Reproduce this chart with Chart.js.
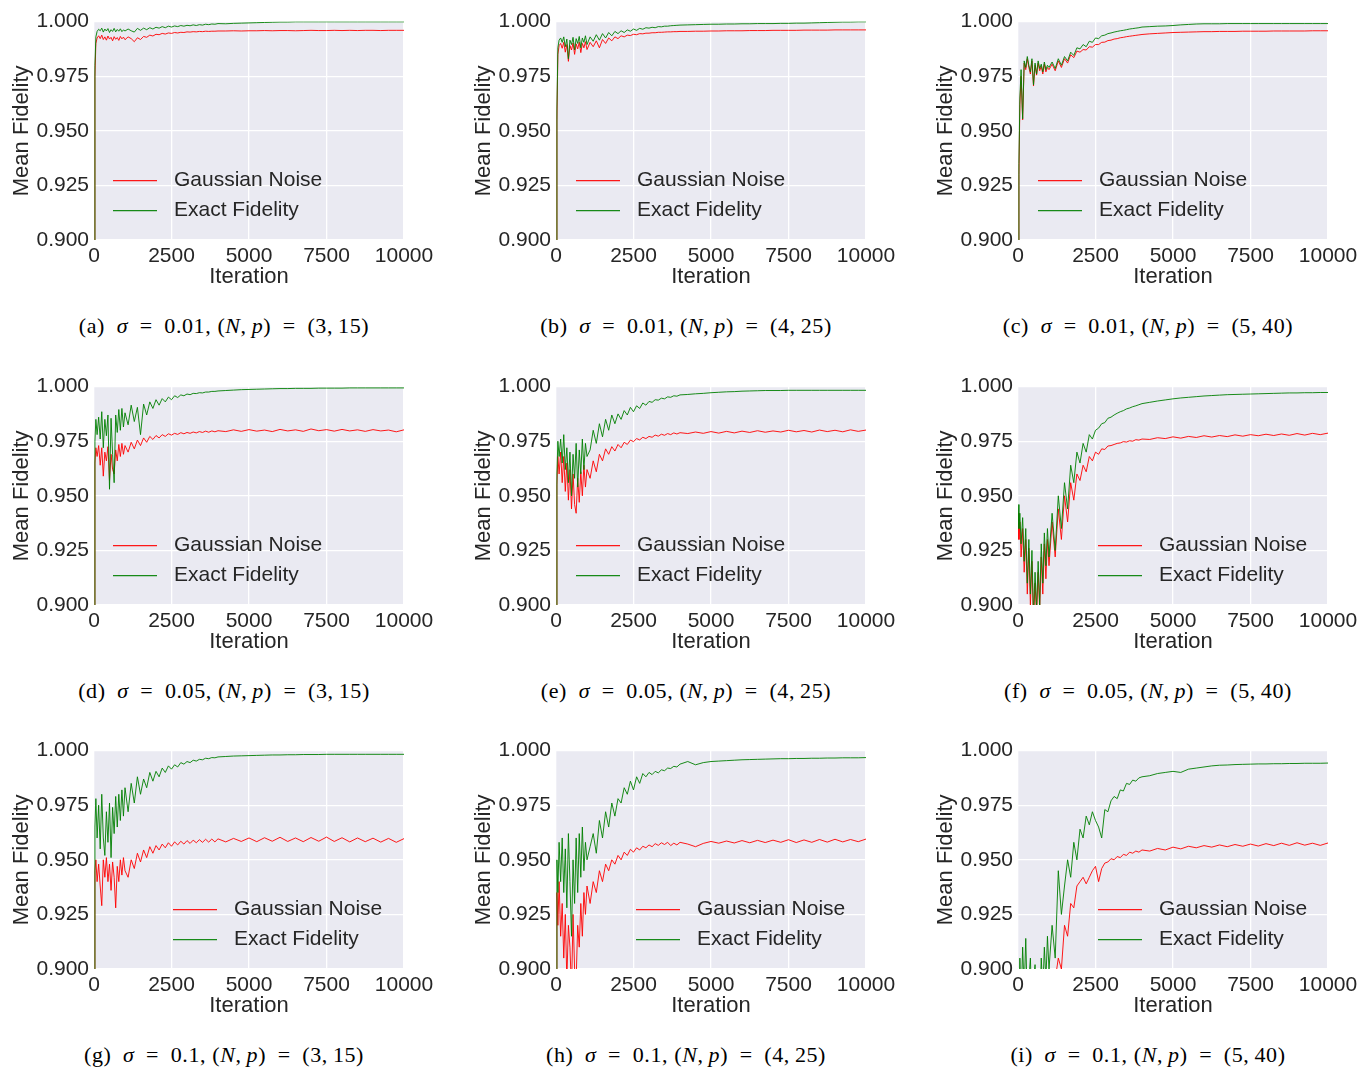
<!DOCTYPE html>
<html>
<head>
<meta charset="utf-8">
<script src="https://cdn.jsdelivr.net/npm/chart.js@4.4.1/dist/chart.umd.min.js"></script>
<style>
  body { margin: 0; background: #fff; }
  #page { position: relative; width: 1361px; height: 1067px; }
  canvas { position: absolute; }
  .cap { position: absolute; width: 420px; text-align: center; font-family: 'Liberation Serif', 'DejaVu Serif', serif; font-size: 22px; line-height: 26px; letter-spacing: 0.6px; color: #000; white-space: nowrap; }
  .cap i { font-style: italic; }
</style>
</head>
<body>
<div id="page"></div>
<script>
// iteration grid shared by every panel
let iterations = [0, 30, 60, 100,
  150, 200, 250, 300, 350, 400, 450, 500, 550, 600, 650, 700, 750, 800, 850, 900, 950, 1000,
  1100, 1200, 1300, 1400, 1500, 1600, 1700, 1800, 1900, 2000,
  2100, 2200, 2300, 2400, 2500, 2600, 2700, 2800, 2900, 3000,
  3100, 3200, 3300, 3400, 3500, 3600, 3700, 3800, 3900, 4000,
  4250, 4500, 4750, 5000, 5250, 5500, 5750, 6000, 6250, 6500, 6750, 7000,
  7250, 7500, 7750, 8000, 8250, 8500, 8750, 9000, 9250, 9500, 9750, 10000];

let xTicks = [0, 2500, 5000, 7500, 10000];
let yTicks = [0.900, 0.925, 0.950, 0.975, 1.000];

// (a) sigma = 0.01, (N,p) = (3,15)
let redA = [0.850, 0.975, 0.990, 0.9925,
  0.9935, 0.9922, 0.9938, 0.9918, 0.9930, 0.9915, 0.9934, 0.9920, 0.9928,
  0.9912, 0.9931, 0.9919, 0.9927, 0.9914, 0.9932, 0.9921, 0.9929, 0.9917,
  0.9930, 0.9922, 0.9908, 0.9926, 0.9918, 0.9932, 0.9928, 0.9938, 0.9934, 0.9942,
  0.9940, 0.9946, 0.9943, 0.9948, 0.9946, 0.9950, 0.9948, 0.9951, 0.9950, 0.9953,
  0.9952, 0.9954, 0.9953, 0.9955, 0.9954, 0.9956, 0.9955, 0.9956, 0.9956, 0.9957,
  0.9957, 0.9958, 0.9957, 0.9958, 0.9958, 0.9959, 0.9958, 0.9959, 0.9959, 0.9958, 0.9959, 0.9960,
  0.9959, 0.9959, 0.9960, 0.9959, 0.9960, 0.9959, 0.9960, 0.9960, 0.9959, 0.9960, 0.9960, 0.9960];
let greenA = [0.850, 0.980, 0.993, 0.9955,
  0.9965, 0.9958, 0.9970, 0.9952, 0.9966, 0.9957, 0.9968, 0.9950, 0.9963,
  0.9955, 0.9969, 0.9953, 0.9964, 0.9956, 0.9967, 0.9954, 0.9962, 0.9957,
  0.9966, 0.9958, 0.9952, 0.9969, 0.9960, 0.9970, 0.9963, 0.9972, 0.9966, 0.9974,
  0.9970, 0.9977, 0.9972, 0.9979, 0.9975, 0.9980, 0.9977, 0.9982, 0.9979, 0.9983,
  0.9981, 0.9985, 0.9982, 0.9986, 0.9984, 0.9988, 0.9986, 0.9989, 0.9988, 0.9991,
  0.9990, 0.9992, 0.9993, 0.9994, 0.9995, 0.9996, 0.9997, 0.9998, 0.9998, 0.9999, 0.9999, 0.9999,
  0.9999, 0.9999, 0.9999, 0.9999, 0.9999, 0.9999, 0.9999, 0.9999, 0.9999, 0.9999, 0.9999, 0.9999];

// (b) sigma = 0.01, (N,p) = (4,25)
let redB = [0.850, 0.955, 0.985, 0.9890,
  0.9900, 0.9878, 0.9905, 0.9860, 0.9895, 0.9818, 0.9890, 0.9870, 0.9902,
  0.9850, 0.9898, 0.9875, 0.9906, 0.9858, 0.9900, 0.9880, 0.9908, 0.9872,
  0.9905, 0.9885, 0.9912, 0.9880, 0.9918, 0.9900, 0.9925, 0.9912, 0.9930, 0.9922,
  0.9935, 0.9930, 0.9938, 0.9936, 0.9942, 0.9940, 0.9945, 0.9944, 0.9947, 0.9947,
  0.9949, 0.9949, 0.9951, 0.9951, 0.9952, 0.9953, 0.9953, 0.9954, 0.9954, 0.9955,
  0.9955, 0.9956, 0.9956, 0.9957, 0.9957, 0.9958, 0.9958, 0.9958, 0.9959, 0.9959, 0.9959, 0.9960,
  0.9960, 0.9960, 0.9960, 0.9961, 0.9961, 0.9961, 0.9961, 0.9962, 0.9962, 0.9962, 0.9962, 0.9962];
let greenB = [0.850, 0.960, 0.988, 0.9915,
  0.9925, 0.9905, 0.9930, 0.9885, 0.9920, 0.9830, 0.9915, 0.9895, 0.9928,
  0.9870, 0.9922, 0.9900, 0.9932, 0.9880, 0.9925, 0.9905, 0.9935, 0.9895,
  0.9930, 0.9910, 0.9940, 0.9915, 0.9945, 0.9925, 0.9950, 0.9935, 0.9955, 0.9945,
  0.9958, 0.9950, 0.9962, 0.9956, 0.9966, 0.9960, 0.9969, 0.9965, 0.9972, 0.9970,
  0.9974, 0.9972, 0.9977, 0.9976, 0.9979, 0.9979, 0.9981, 0.9982, 0.9983, 0.9984,
  0.9985, 0.9986, 0.9987, 0.9988, 0.9988, 0.9989, 0.9989, 0.9990, 0.9990, 0.9991, 0.9991, 0.9991,
  0.9992, 0.9992, 0.9993, 0.9993, 0.9994, 0.9995, 0.9996, 0.9997, 0.9998, 0.9998, 0.9999, 0.9999];

// (c) sigma = 0.01, (N,p) = (5,40)
let redC = [0.850, 0.930, 0.962, 0.975,
  0.9550, 0.9810, 0.9780, 0.9830, 0.9790, 0.9760, 0.9820, 0.9705, 0.9800,
  0.9755, 0.9810, 0.9775, 0.9795, 0.9760, 0.9805, 0.9770, 0.9790, 0.9780,
  0.9805, 0.9775, 0.9820, 0.9790, 0.9830, 0.9810, 0.9848, 0.9835, 0.9865, 0.9860,
  0.9872, 0.9870, 0.9885, 0.9883, 0.9895, 0.9895, 0.9905, 0.9906, 0.9913, 0.9915,
  0.9920, 0.9922, 0.9926, 0.9928, 0.9931, 0.9933, 0.9935, 0.9937, 0.9939, 0.9941,
  0.9944, 0.9946, 0.9948, 0.9950, 0.9951, 0.9952, 0.9953, 0.9954, 0.9954, 0.9955, 0.9955, 0.9955,
  0.9956, 0.9956, 0.9956, 0.9956, 0.9957, 0.9957, 0.9957, 0.9957, 0.9957, 0.9958, 0.9958, 0.9958];
let greenC = [0.850, 0.935, 0.965, 0.978,
  0.9555, 0.9820, 0.9790, 0.9840, 0.9800, 0.9770, 0.9830, 0.9710, 0.9810,
  0.9760, 0.9820, 0.9785, 0.9805, 0.9770, 0.9815, 0.9780, 0.9800, 0.9790,
  0.9815, 0.9785, 0.9830, 0.9800, 0.9840, 0.9820, 0.9860, 0.9845, 0.9880, 0.9875,
  0.9895, 0.9885, 0.9910, 0.9905, 0.9925, 0.9922, 0.9935, 0.9938, 0.9945, 0.9948,
  0.9952, 0.9955, 0.9958, 0.9960, 0.9963, 0.9966, 0.9968, 0.9970, 0.9972, 0.9975,
  0.9977, 0.9979, 0.9980, 0.9982, 0.9985, 0.9987, 0.9989, 0.9990, 0.9990, 0.9990, 0.9991, 0.9991,
  0.9991, 0.9991, 0.9991, 0.9991, 0.9991, 0.9991, 0.9991, 0.9991, 0.9991, 0.9991, 0.9991, 0.9991];

// (d) sigma = 0.05, (N,p) = (3,15)
let redD = [0.850, 0.965, 0.972, 0.968,
  0.9730, 0.9640, 0.9720, 0.9590, 0.9700, 0.9660, 0.9725, 0.9570, 0.9690,
  0.9620, 0.9600, 0.9710, 0.9660, 0.9735, 0.9680, 0.9740, 0.9690, 0.9730,
  0.9700, 0.9745, 0.9715, 0.9755, 0.9730, 0.9765, 0.9745, 0.9772, 0.9758, 0.9776,
  0.9765, 0.9780, 0.9772, 0.9784, 0.9778, 0.9786, 0.9781, 0.9789, 0.9784, 0.9790,
  0.9786, 0.9792, 0.9788, 0.9794, 0.9790, 0.9796, 0.9791, 0.9797, 0.9793, 0.9798,
  0.9794, 0.9802, 0.9795, 0.9803, 0.9796, 0.9801, 0.9794, 0.9804, 0.9797, 0.9802, 0.9795, 0.9806,
  0.9798, 0.9803, 0.9796, 0.9804, 0.9797, 0.9802, 0.9795, 0.9803, 0.9797, 0.9801, 0.9793, 0.9802];
let greenD = [0.850, 0.975, 0.985, 0.978,
  0.9860, 0.9760, 0.9885, 0.9720, 0.9850, 0.9775, 0.9870, 0.9530, 0.9855,
  0.9690, 0.9560, 0.9870, 0.9790, 0.9895, 0.9800, 0.9900, 0.9815, 0.9880,
  0.9825, 0.9915, 0.9840, 0.9905, 0.9780, 0.9920, 0.9870, 0.9930, 0.9900, 0.9940,
  0.9915, 0.9945, 0.9930, 0.9952, 0.9940, 0.9958, 0.9950, 0.9962, 0.9958, 0.9966,
  0.9963, 0.9969, 0.9968, 0.9972, 0.9971, 0.9975, 0.9975, 0.9978, 0.9978, 0.9980,
  0.9982, 0.9984, 0.9986, 0.9987, 0.9988, 0.9989, 0.9990, 0.9991, 0.9991, 0.9992, 0.9992, 0.9992,
  0.9993, 0.9993, 0.9993, 0.9993, 0.9994, 0.9994, 0.9994, 0.9994, 0.9994, 0.9994, 0.9994, 0.9994];

// (e) sigma = 0.05, (N,p) = (4,25)
let redE = [0.850, 0.955, 0.968, 0.960,
  0.9700, 0.9560, 0.9680, 0.9520, 0.9650, 0.9480, 0.9620, 0.9440, 0.9600,
  0.9460, 0.9420, 0.9580, 0.9470, 0.9610, 0.9500, 0.9640, 0.9540, 0.9620,
  0.9580, 0.9660, 0.9610, 0.9690, 0.9660, 0.9715, 0.9690, 0.9725, 0.9705, 0.9735,
  0.9720, 0.9745, 0.9735, 0.9755, 0.9748, 0.9762, 0.9756, 0.9768, 0.9762, 0.9772,
  0.9768, 0.9778, 0.9773, 0.9782, 0.9777, 0.9785, 0.9780, 0.9788, 0.9783, 0.9789,
  0.9785, 0.9792, 0.9786, 0.9794, 0.9787, 0.9795, 0.9788, 0.9796, 0.9790, 0.9798, 0.9791, 0.9797,
  0.9792, 0.9800, 0.9793, 0.9799, 0.9792, 0.9801, 0.9794, 0.9800, 0.9793, 0.9802, 0.9795, 0.9801];
let greenE = [0.850, 0.960, 0.975, 0.968,
  0.9760, 0.9650, 0.9780, 0.9620, 0.9720, 0.9560, 0.9700, 0.9500, 0.9690,
  0.9580, 0.9740, 0.9540, 0.9710, 0.9600, 0.9760, 0.9620, 0.9740, 0.9680,
  0.9710, 0.9800, 0.9740, 0.9830, 0.9770, 0.9850, 0.9800, 0.9870, 0.9830, 0.9875,
  0.9850, 0.9890, 0.9870, 0.9905, 0.9885, 0.9912, 0.9900, 0.9925, 0.9915, 0.9932,
  0.9928, 0.9940, 0.9938, 0.9947, 0.9944, 0.9953, 0.9951, 0.9958, 0.9956, 0.9962,
  0.9964, 0.9967, 0.9969, 0.9972, 0.9974, 0.9976, 0.9977, 0.9979, 0.9980, 0.9981, 0.9982, 0.9982,
  0.9982, 0.9983, 0.9983, 0.9983, 0.9983, 0.9983, 0.9983, 0.9983, 0.9983, 0.9983, 0.9983, 0.9983];

// (f) sigma = 0.05, (N,p) = (5,40)
let redF = [0.942, 0.930, 0.938, 0.922,
  0.9350, 0.9150, 0.9300, 0.9050, 0.9260, 0.9000, 0.9200, 0.8920, 0.9100,
  0.8950, 0.9150, 0.8980, 0.9220, 0.9050, 0.9280, 0.9120, 0.9300, 0.9180,
  0.9380, 0.9220, 0.9440, 0.9300, 0.9500, 0.9380, 0.9560, 0.9480, 0.9600, 0.9570,
  0.9640, 0.9610, 0.9680, 0.9660, 0.9700, 0.9690, 0.9715, 0.9712, 0.9728, 0.9730,
  0.9735, 0.9740, 0.9742, 0.9748, 0.9746, 0.9752, 0.9750, 0.9757, 0.9755, 0.9760,
  0.9758, 0.9766, 0.9762, 0.9770, 0.9764, 0.9772, 0.9767, 0.9775, 0.9769, 0.9776, 0.9771, 0.9779,
  0.9773, 0.9780, 0.9775, 0.9782, 0.9776, 0.9783, 0.9777, 0.9785, 0.9778, 0.9786, 0.9780, 0.9787];
let greenF = [0.946, 0.935, 0.942, 0.928,
  0.9400, 0.9200, 0.9350, 0.9100, 0.9300, 0.9050, 0.9250, 0.8950, 0.9150,
  0.8980, 0.9200, 0.9000, 0.9280, 0.9100, 0.9330, 0.9180, 0.9350, 0.9220,
  0.9420, 0.9250, 0.9500, 0.9350, 0.9560, 0.9440, 0.9640, 0.9560, 0.9700, 0.9650,
  0.9740, 0.9700, 0.9780, 0.9760, 0.9800, 0.9810, 0.9830, 0.9835, 0.9855, 0.9860,
  0.9870, 0.9878, 0.9885, 0.9890, 0.9898, 0.9902, 0.9908, 0.9912, 0.9917, 0.9922,
  0.9928, 0.9934, 0.9939, 0.9944, 0.9948, 0.9951, 0.9954, 0.9957, 0.9959, 0.9961, 0.9963, 0.9964,
  0.9965, 0.9966, 0.9967, 0.9968, 0.9969, 0.9970, 0.9971, 0.9971, 0.9972, 0.9972, 0.9973, 0.9973];

// (g) sigma = 0.1, (N,p) = (3,15)
let redG = [0.850, 0.945, 0.950, 0.940,
  0.9480, 0.9380, 0.9290, 0.9500, 0.9420, 0.9510, 0.9400, 0.9480, 0.9360,
  0.9490, 0.9420, 0.9280, 0.9470, 0.9400, 0.9500, 0.9430, 0.9510, 0.9450,
  0.9420, 0.9500, 0.9460, 0.9530, 0.9490, 0.9545, 0.9510, 0.9560, 0.9530, 0.9565,
  0.9545, 0.9572, 0.9555, 0.9578, 0.9562, 0.9582, 0.9568, 0.9585, 0.9572, 0.9588,
  0.9575, 0.9590, 0.9578, 0.9592, 0.9580, 0.9594, 0.9581, 0.9595, 0.9582, 0.9596,
  0.9582, 0.9598, 0.9584, 0.9600, 0.9583, 0.9601, 0.9585, 0.9603, 0.9584, 0.9600, 0.9583, 0.9602,
  0.9585, 0.9604, 0.9584, 0.9601, 0.9582, 0.9600, 0.9583, 0.9599, 0.9581, 0.9598, 0.9580, 0.9597];
let greenG = [0.850, 0.965, 0.978, 0.960,
  0.9750, 0.9550, 0.9800, 0.9600, 0.9520, 0.9720, 0.9580, 0.9760, 0.9510,
  0.9740, 0.9620, 0.9790, 0.9650, 0.9800, 0.9680, 0.9820, 0.9700, 0.9830,
  0.9720, 0.9850, 0.9760, 0.9880, 0.9800, 0.9870, 0.9830, 0.9900, 0.9860, 0.9905,
  0.9880, 0.9920, 0.9900, 0.9930, 0.9915, 0.9935, 0.9925, 0.9945, 0.9938, 0.9950,
  0.9945, 0.9956, 0.9952, 0.9960, 0.9958, 0.9965, 0.9963, 0.9968, 0.9967, 0.9971,
  0.9973, 0.9975, 0.9976, 0.9977, 0.9978, 0.9979, 0.9980, 0.9980, 0.9981, 0.9981, 0.9982, 0.9982,
  0.9982, 0.9983, 0.9983, 0.9983, 0.9983, 0.9983, 0.9983, 0.9983, 0.9983, 0.9983, 0.9983, 0.9983];

// (h) sigma = 0.1, (N,p) = (4,25)
let redH = [0.850, 0.935, 0.920, 0.940,
  0.9150, 0.9300, 0.9050, 0.9250, 0.8950, 0.9200, 0.9100, 0.8900, 0.9250,
  0.9000, 0.8950, 0.9200, 0.9100, 0.9300, 0.9150, 0.9350, 0.9250, 0.9380,
  0.9300, 0.9400, 0.9350, 0.9450, 0.9400, 0.9480, 0.9450, 0.9500, 0.9480, 0.9520,
  0.9500, 0.9535, 0.9520, 0.9548, 0.9535, 0.9555, 0.9545, 0.9562, 0.9555, 0.9568,
  0.9560, 0.9574, 0.9566, 0.9578, 0.9570, 0.9580, 0.9565, 0.9576, 0.9568, 0.9580,
  0.9572, 0.9560, 0.9575, 0.9584, 0.9576, 0.9586, 0.9577, 0.9588, 0.9578, 0.9589, 0.9579, 0.9590,
  0.9580, 0.9592, 0.9579, 0.9591, 0.9580, 0.9593, 0.9581, 0.9594, 0.9582, 0.9593, 0.9583, 0.9595];
let greenH = [0.850, 0.950, 0.935, 0.958,
  0.9400, 0.9600, 0.9350, 0.9550, 0.9280, 0.9620, 0.9400, 0.9150, 0.9500,
  0.9300, 0.9600, 0.9350, 0.9620, 0.9420, 0.9650, 0.9450, 0.9580, 0.9500,
  0.9560, 0.9620, 0.9530, 0.9680, 0.9600, 0.9720, 0.9650, 0.9760, 0.9700, 0.9780,
  0.9760, 0.9830, 0.9800, 0.9860, 0.9820, 0.9880, 0.9850, 0.9895, 0.9880, 0.9900,
  0.9890, 0.9905, 0.9898, 0.9912, 0.9908, 0.9920, 0.9918, 0.9928, 0.9925, 0.9938,
  0.9950, 0.9935, 0.9945, 0.9950, 0.9952, 0.9954, 0.9956, 0.9958, 0.9959, 0.9960, 0.9961, 0.9962,
  0.9963, 0.9963, 0.9964, 0.9964, 0.9965, 0.9965, 0.9966, 0.9966, 0.9967, 0.9967, 0.9967, 0.9968];

// (i) sigma = 0.1, (N,p) = (5,40)
let redI = [0.850, 0.860, 0.870, 0.865,
  0.8700, 0.8650, 0.8750, 0.8700, 0.8650, 0.8720, 0.8680, 0.8750, 0.8700,
  0.8780, 0.8720, 0.8800, 0.8750, 0.8830, 0.8780, 0.8850, 0.8800, 0.8880,
  0.8900, 0.8950, 0.9050, 0.9000, 0.9200, 0.9150, 0.9300, 0.9280, 0.9380, 0.9400,
  0.9420, 0.9390, 0.9420, 0.9450, 0.9470, 0.9400, 0.9460, 0.9485, 0.9490, 0.9505,
  0.9500, 0.9515, 0.9510, 0.9525, 0.9520, 0.9535, 0.9530, 0.9540, 0.9535, 0.9545,
  0.9540, 0.9552, 0.9545, 0.9558, 0.9550, 0.9562, 0.9555, 0.9565, 0.9558, 0.9568, 0.9560, 0.9570,
  0.9562, 0.9572, 0.9563, 0.9574, 0.9565, 0.9576, 0.9566, 0.9578, 0.9567, 0.9576, 0.9566, 0.9577];
let greenI = [0.850, 0.880, 0.905, 0.885,
  0.9100, 0.8900, 0.9140, 0.8850, 0.8950, 0.9050, 0.8800, 0.8950, 0.9020,
  0.8850, 0.8980, 0.8800, 0.9050, 0.8900, 0.9100, 0.8950, 0.9150, 0.9000,
  0.9200, 0.9050, 0.9450, 0.9250, 0.9380, 0.9500, 0.9420, 0.9580, 0.9500, 0.9640,
  0.9600, 0.9700, 0.9660, 0.9720, 0.9680, 0.9650, 0.9600, 0.9730, 0.9720, 0.9770,
  0.9790, 0.9780, 0.9820, 0.9815, 0.9850, 0.9845, 0.9865, 0.9860, 0.9875, 0.9880,
  0.9885, 0.9895, 0.9900, 0.9905, 0.9900, 0.9915, 0.9920, 0.9925, 0.9930, 0.9933, 0.9934, 0.9936,
  0.9937, 0.9938, 0.9939, 0.9939, 0.9940, 0.9940, 0.9941, 0.9941, 0.9942, 0.9942, 0.9942, 0.9943];

let seriesNames = ["Gaussian Noise", "Exact Fidelity"];

Chart.defaults.font.family = "'Liberation Sans', Arial, sans-serif";
Chart.defaults.color = "#262626";

const page = document.getElementById("page");
const plotLefts = [94, 556, 1018];
const plotTops = [22, 387, 751];

// grey seaborn-like plot background
const bgPlugin = {
  id: "bg",
  beforeDraw(chart) {
    const a = chart.chartArea, ctx = chart.ctx;
    ctx.save();
    ctx.fillStyle = "#EAEAF2";
    ctx.fillRect(a.left, a.top, a.right - a.left, a.bottom - a.top);
    ctx.restore();
  }
};

// legend drawn inside the plot area
const innerLegend = {
  id: "innerLegend",
  afterDatasetsDraw(chart, args, opts) {
    const a = chart.chartArea, ctx = chart.ctx;
    ctx.save();
    ctx.font = "21px 'Liberation Sans', Arial, sans-serif";
    ctx.textBaseline = "middle";
    ctx.fillStyle = "#262626";
    chart.data.datasets.slice().sort((p, q) => q.order - p.order).forEach((ds, i) => {
      const y = a.top + 159 + i * 30;
      ctx.strokeStyle = ds.borderColor;
      ctx.lineWidth = 1.2;
      ctx.beginPath();
      ctx.moveTo(a.left + opts.x, y);
      ctx.lineTo(a.left + opts.x + 44, y);
      ctx.stroke();
      ctx.fillText(ds.label, a.left + opts.x + 61, y);
    });
    ctx.restore();
  }
};

function makePanel(col, row, red, green, legendX, caption) {
  const canvas = document.createElement("canvas");
  canvas.width = 444;
  canvas.height = 292;
  canvas.style.left = (plotLefts[col] - 94) + "px";
  canvas.style.top = (plotTops[row] - 18) + "px";
  page.appendChild(canvas);

  const cap = document.createElement("div");
  cap.className = "cap";
  cap.style.left = (plotLefts[col] + 130 - 210) + "px";
  cap.style.top = (plotTops[row] + 291) + "px";
  cap.innerHTML = caption;
  page.appendChild(cap);

  const toPoints = arr => iterations.map((x, i) => ({x: x, y: arr[i]}));

  new Chart(canvas, {
    type: "line",
    data: {
      datasets: [
        {label: seriesNames[0], data: toPoints(red), borderColor: "rgba(255,0,0,0.9)", order: 1},
        {label: seriesNames[1], data: toPoints(green), borderColor: "rgba(0,128,0,0.9)", order: 0}
      ]
    },
    options: {
      responsive: false,
      animation: false,
      layout: {padding: {top: 0, right: 40, left: 0, bottom: 0}},
      elements: {point: {radius: 0}, line: {borderWidth: 1, tension: 0}},
      plugins: {legend: {display: false}, tooltip: {enabled: false}, innerLegend: {x: legendX}},
      scales: {
        x: {
          type: "linear", min: 0, max: 10000,
          afterBuildTicks: s => { s.ticks = xTicks.map(v => ({value: v})); },
          afterFit: s => { s.height = 56; },
          ticks: {font: {size: 21}, padding: 4, maxRotation: 0, callback: v => String(v)},
          grid: {color: "#ffffff", lineWidth: 1.3, drawTicks: false},
          border: {display: false},
          title: {display: true, text: "Iteration", font: {size: 22}, padding: {top: 0, bottom: 6}}
        },
        y: {
          min: 0.9, max: 1.0,
          afterBuildTicks: s => { s.ticks = yTicks.map(v => ({value: v})); },
          afterFit: s => { s.width = 94; },
          ticks: {font: {size: 21}, padding: 5, callback: v => v.toFixed(3)},
          grid: {color: "#ffffff", lineWidth: 1.3, drawTicks: false},
          border: {display: false},
          title: {display: true, text: "Mean Fidelity", font: {size: 22}, padding: {top: 9, bottom: 0}}
        }
      }
    },
    plugins: [bgPlugin, innerLegend]
  });
}

function captionText(letter, sigma, n, p) {
  return "(" + letter + ")&ensp;<i>σ</i>&ensp;=&ensp;" + sigma + ", (<i>N</i>,&thinsp;<i>p</i>)&ensp;=&ensp;(" + n + ",&thinsp;" + p + ")";
}

makePanel(0, 0, redA, greenA, 19, captionText("a", "0.01", 3, 15));
makePanel(1, 0, redB, greenB, 20, captionText("b", "0.01", 4, 25));
makePanel(2, 0, redC, greenC, 20, captionText("c", "0.01", 5, 40));
makePanel(0, 1, redD, greenD, 19, captionText("d", "0.05", 3, 15));
makePanel(1, 1, redE, greenE, 20, captionText("e", "0.05", 4, 25));
makePanel(2, 1, redF, greenF, 80, captionText("f", "0.05", 5, 40));
makePanel(0, 2, redG, greenG, 79, captionText("g", "0.1", 3, 15));
makePanel(1, 2, redH, greenH, 80, captionText("h", "0.1", 4, 25));
makePanel(2, 2, redI, greenI, 80, captionText("i", "0.1", 5, 40));
</script>
</body>
</html>
